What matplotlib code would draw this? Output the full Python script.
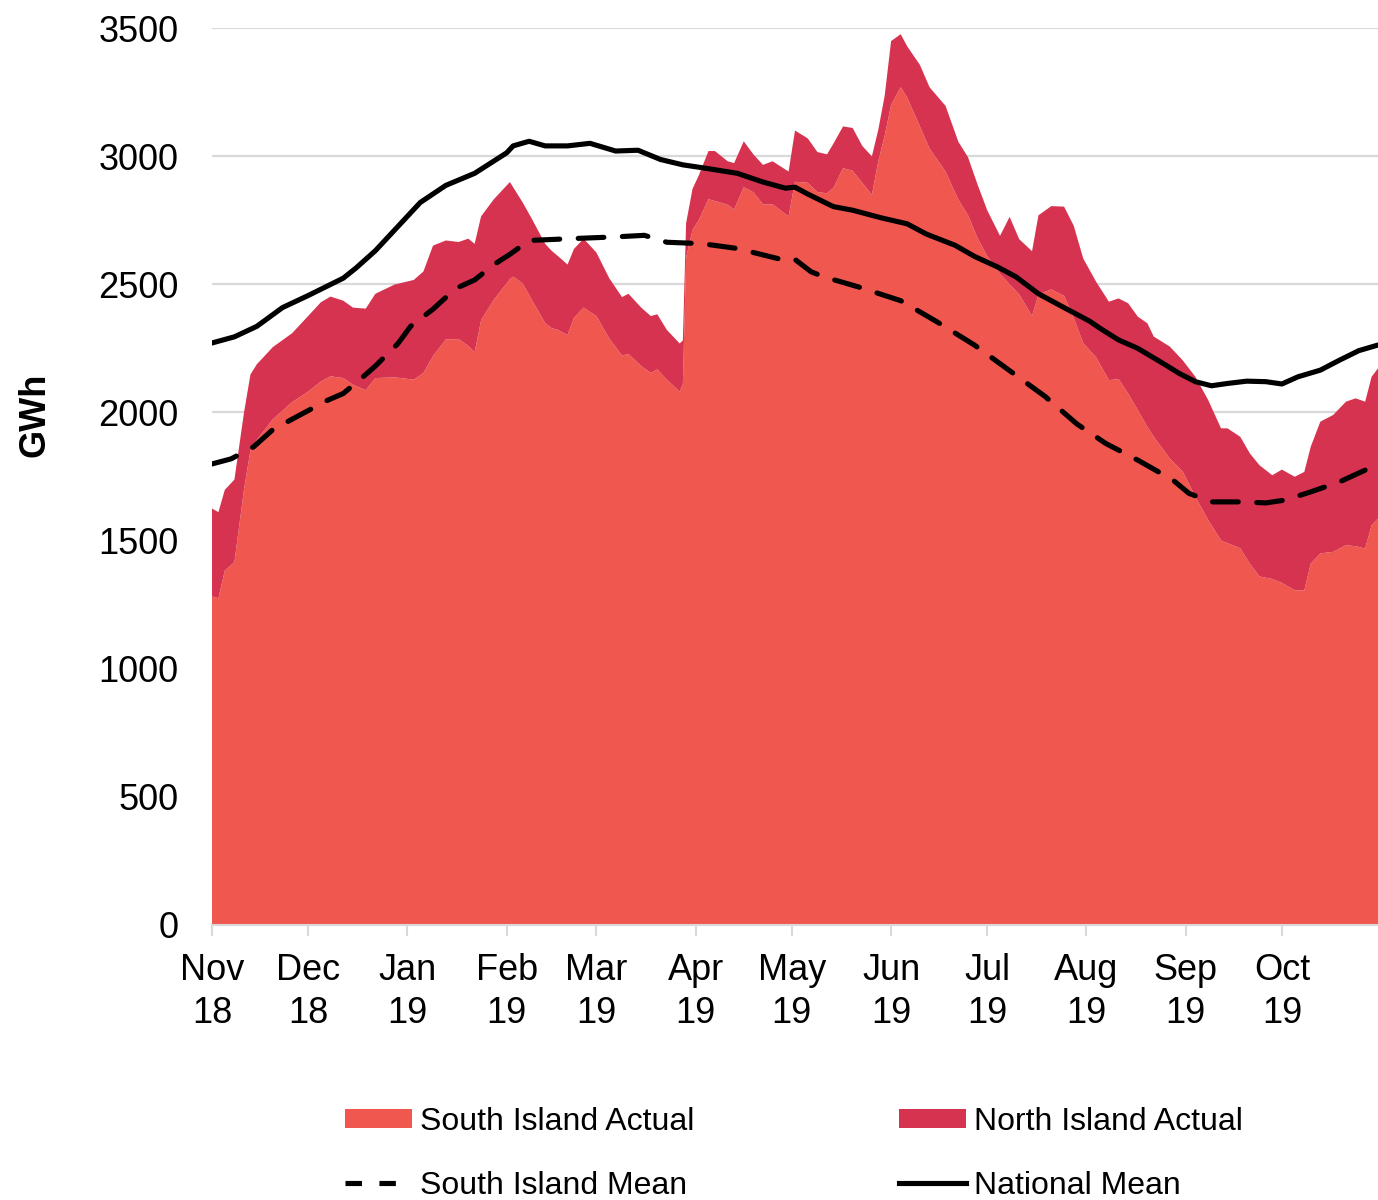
import numpy as np
import pandas as pd
import matplotlib
matplotlib.use("Agg")
import matplotlib.pyplot as plt
from matplotlib.patches import Patch
from matplotlib.lines import Line2D

plt.rcParams['font.family'] = ['Liberation Sans', 'DejaVu Sans']

start = pd.Timestamp('2018-11-01')

# actual generation, days since 1 Nov 2018
actual_days = [0, 2, 4, 7, 10, 12, 14, 19, 25, 30, 34, 37, 41, 44, 48, 51, 57, 63, 66, 69,
               73, 77, 80, 82, 84, 88, 93, 94, 97, 100, 104, 106, 108, 111, 113, 116, 120,
               124, 128, 130, 134, 137, 139, 142, 146, 147, 148, 150, 152, 155, 157, 161,
               163, 166, 169, 172, 175, 180, 182, 186, 189, 192, 194, 197, 200, 203, 206,
               208, 210, 212, 215, 217, 221, 224, 229, 233, 236, 239, 242, 246, 249, 252,
               256, 258, 262, 266, 269, 272, 276, 280, 283, 286, 289, 292, 294, 299, 303,
               307, 311, 315, 317, 321, 324, 327, 331, 334, 338, 341, 343, 346, 350, 354,
               357, 360, 362, 364]
south_actual = [1282, 1275, 1383, 1416, 1700, 1852, 1893, 1973, 2040, 2081, 2121, 2141, 2134,
                2108, 2087, 2134, 2137, 2128, 2154, 2220, 2285, 2286, 2260, 2235, 2360, 2440,
                2520, 2530, 2503, 2436, 2349, 2329, 2322, 2302, 2369, 2409, 2376, 2289, 2222,
                2228, 2181, 2154, 2168, 2128, 2081, 2111, 2604, 2711, 2752, 2832, 2825, 2810,
                2792, 2879, 2859, 2812, 2812, 2765, 2900, 2896, 2860, 2855, 2876, 2953, 2943,
                2896, 2849, 2980, 3080, 3200, 3269, 3229, 3116, 3030, 2940, 2830, 2770, 2680,
                2610, 2540, 2500, 2460, 2376, 2460, 2480, 2455, 2369, 2270, 2215, 2126, 2130,
                2074, 2010, 1944, 1905, 1820, 1770, 1671, 1580, 1501, 1490, 1470, 1410, 1360,
                1350, 1335, 1306, 1306, 1410, 1450, 1456, 1482, 1478, 1469, 1560, 1586]
north_actual = [343, 336, 315, 322, 300, 296, 295, 282, 269, 295, 309, 311, 302, 301, 318, 329,
                362, 389, 396, 431, 386, 379, 418, 423, 405, 392, 379, 349, 316, 316, 309, 302,
                288, 275, 269, 269, 248, 235, 228, 235, 228, 222, 215, 194, 188, 170, 134, 161,
                174, 188, 195, 170, 181, 179, 148, 154, 168, 175, 200, 173, 156, 152, 173, 163,
                167, 144, 150, 123, 156, 249, 207, 200, 240, 239, 256, 226, 226, 209, 179, 149,
                263, 216, 253, 309, 325, 348, 360, 330, 295, 306, 315, 352, 364, 404, 391, 437,
                434, 468, 468, 437, 448, 435, 430, 434, 405, 442, 443, 462, 456, 514, 534, 560,
                577, 573, 579, 586]

south_mean_days = [0, 6, 13, 19, 27, 36, 41, 48, 51, 58, 62, 69, 76, 82, 88, 93, 99, 112, 126,
                   135, 142, 150, 155, 165, 169, 179, 182, 187, 191, 202, 215, 226, 238, 249,
                   260, 270, 279, 289, 300, 305, 312, 321, 329, 335, 343, 352, 360, 364]
south_mean = [1799, 1819, 1866, 1933, 1987, 2047, 2074, 2148, 2181, 2268, 2336, 2403, 2483,
              2517, 2577, 2617, 2671, 2678, 2685, 2691, 2664, 2660, 2655, 2638, 2624, 2593,
              2597, 2549, 2529, 2489, 2436, 2356, 2263, 2163, 2063, 1955, 1879, 1814, 1736,
              1684, 1651, 1651, 1647, 1658, 1690, 1729, 1775, 1794]

national_days = [0, 7, 14, 22, 30, 41, 45, 51, 58, 65, 73, 82, 87, 92, 94, 99, 104, 111, 118,
                 126, 133, 140, 147, 154, 164, 172, 179, 182, 186, 194, 200, 209, 217, 223,
                 232, 238, 245, 251, 258, 266, 274, 277, 283, 289, 296, 302, 307, 312, 317,
                 323, 329, 334, 339, 346, 352, 358, 364]
national_mean = [2271, 2295, 2336, 2409, 2456, 2524, 2564, 2631, 2725, 2819, 2886, 2933, 2973,
                 3013, 3040, 3058, 3040, 3040, 3050, 3020, 3023, 2987, 2966, 2953, 2933, 2899,
                 2875, 2879, 2852, 2803, 2789, 2759, 2736, 2696, 2652, 2609, 2569, 2529, 2463,
                 2409, 2356, 2330, 2283, 2250, 2198, 2152, 2120, 2104, 2113, 2122, 2120, 2111,
                 2139, 2165, 2204, 2241, 2263]

south_col = '#F0574F'
north_col = '#D5334F'

def to_dates(days):
    return start + pd.to_timedelta(days, unit='D')

fig = plt.figure(figsize=(13.78, 12), dpi=100)
ax = fig.add_axes([212 / 1378, 1 - 925 / 1200, 1 - 212 / 1378, 897 / 1200])

ax.stackplot(to_dates(actual_days), south_actual, north_actual,
             colors=[south_col, north_col], linewidth=0, zorder=2)
ax.plot(to_dates(south_mean_days), south_mean, color='black', lw=3.7,
        dashes=(5, 3.6), dash_capstyle='round', zorder=3)
ax.plot(to_dates(national_days), national_mean, color='black', lw=3.7,
        solid_capstyle='round', zorder=3)

ax.set_ylim(0, 3500)
ax.set_yticks(np.arange(0, 3501, 500))
ax.set_xlim(start, pd.Timestamp('2019-10-31'))
months = pd.date_range('2018-11-01', '2019-10-01', freq='MS')
ax.set_xticks(months)
ax.set_xticklabels([m.strftime('%b\n%y') for m in months], linespacing=1.3)

ax.grid(axis='y', color='#D9D9D9', lw=1.6, zorder=0)
ax.set_axisbelow(True)
for s in ['top', 'right', 'left']:
    ax.spines[s].set_visible(False)
ax.spines['bottom'].set_color('#D9D9D9')
ax.spines['bottom'].set_linewidth(1.5)
ax.tick_params(axis='y', length=0, pad=24, labelsize=26)
ax.tick_params(axis='x', length=8, width=1.5, color='#D9D9D9', pad=12, labelsize=26)

fig.text(35 / 1378, 1 - 415 / 1200, 'GWh', rotation=90, ha='center', va='center',
         fontsize=26, fontweight='bold')

handles = [Patch(color=south_col, lw=0), Line2D([], [], color='black', lw=3.7, dashes=(3.2, 3.4)),
           Patch(color=north_col, lw=0), Line2D([], [], color='black', lw=3.7)]
labels = ['South Island Actual', 'South Island Mean', 'North Island Actual', 'National Mean']
fig.legend(handles, labels, loc='upper left', bbox_to_anchor=(345 / 1378, 1 - 1107 / 1200),
           ncol=2, frameon=False, fontsize=23, handlelength=2.1, handleheight=0.55,
           handletextpad=0.25, columnspacing=6.4, labelspacing=1.05, borderpad=0,
           borderaxespad=0)

fig.savefig('out.png', dpi=100)
